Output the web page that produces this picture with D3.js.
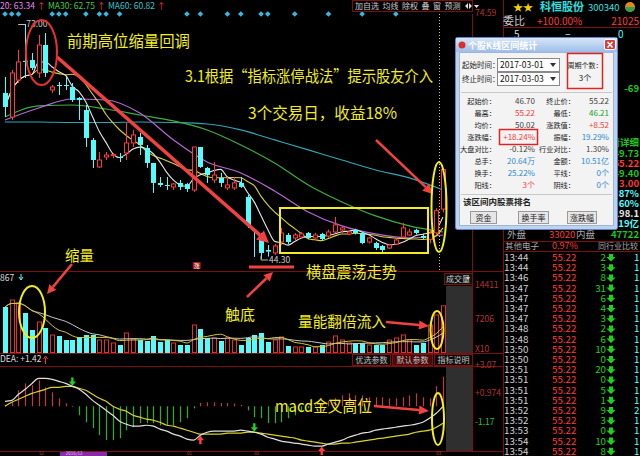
<!DOCTYPE html>
<html><head><meta charset="utf-8">
<script src="https://cdn.jsdelivr.net/npm/d3@7"></script>
<style>
html,body{margin:0;padding:0;background:#000;overflow:hidden}
svg{display:block}
text{font-family:"Noto Sans CJK SC","Noto Sans",sans-serif}
</style></head><body>
<svg id="c" width="640" height="456"></svg>
<script>
// ---------------- DATA ----------------
// daily candles [open, high, low, close]
const ohlc = [
[64.58,66.53,61.64,62.87],[61.64,67.38,61.28,67.02],[66.16,69.83,65.80,68.36],[68.50,73.00,66.41,68.36],
[68.60,69.46,67.38,67.63],[67.02,71.66,66.41,70.44],[70.44,71.90,66.53,67.02],[64.94,65.55,64.58,65.31],
[65.55,65.92,64.33,65.43],[65.55,66.53,64.94,65.43],[65.31,65.80,63.48,63.72],[63.96,64.09,61.28,63.72],
[62.50,63.11,57.98,59.08],[58.84,59.08,55.42,56.39],[55.54,57.37,55.42,56.39],[56.76,57.37,56.39,57.00],
[56.95,57.25,56.60,57.05],[56.76,57.25,56.15,56.64],[57.25,60.91,56.39,58.47],[58.47,60.06,57.98,59.45],
[59.20,59.69,57.00,58.23],[57.86,58.23,55.42,56.03],[56.03,56.03,52.37,53.59],[53.59,54.32,53.10,53.34],
[53.34,54.32,52.73,53.22],[53.10,53.59,52.73,53.46],[53.59,53.95,52.73,53.10],[53.46,53.59,52.49,52.85],
[52.73,57.98,52.49,57.98],[57.98,57.98,55.42,55.54],[55.42,55.54,53.59,54.56],[53.95,56.15,53.59,54.56],
[54.20,54.81,53.10,53.59],[52.98,54.32,52.73,53.34],[52.98,54.32,52.73,53.59],[53.59,54.32,52.98,53.10],
[51.88,52.12,48.09,48.46],[47.85,48.09,44.55,47.75],[47.23,47.48,44.30,45.04],[45.40,46.01,44.60,45.20],
[45.04,46.13,44.79,45.89],[46.38,48.09,46.01,47.48],[47.23,47.48,46.13,46.38],[46.87,47.48,46.62,47.23],
[46.99,47.60,46.80,47.36],[47.48,47.60,46.70,46.87],[46.87,47.50,46.60,47.23],[47.36,47.50,46.50,46.74],
[47.11,47.90,46.90,47.60],[47.60,49.44,47.48,48.46],[47.85,48.30,47.50,48.09],[47.36,47.85,47.20,47.60],
[47.85,48.00,47.30,47.48],[47.48,47.60,46.10,46.25],[46.38,47.00,46.20,46.87],[46.25,46.40,45.40,45.64],
[45.89,46.00,44.90,45.40],[45.64,46.10,45.50,46.01],[46.13,46.80,46.00,46.62],[46.99,48.70,46.87,48.09],
[47.23,48.00,47.10,47.60],[47.85,48.00,47.30,47.48],[47.11,47.40,46.74,46.87],[46.70,47.90,46.21,47.45],
[47.50,50.50,47.20,50.20],[50.40,55.22,50.00,55.22]];
// volume (x10 hands)
const volume = [9752,11236,10600,8480,4876,6572,5300,3816,3604,2756,2756,3392,3816,3816,2756,2756,2120,1696,
4240,2968,2756,2544,3604,2332,2756,2120,1696,1696,5936,5088,3180,3180,2544,3180,2756,1696,3180,3816,4240,2332,
2756,3392,1484,1272,1272,1272,1272,1696,2332,3604,2756,2120,2120,2120,1696,1696,1696,2756,3180,3816,2756,1696,
2120,5936,8056,10000];
// long moving averages read every 5th candle
const maSampleStep = 5;
const ma20 = [61.28,62.74,63.84,63.72,62.13,58.84,56.15,54.81,52.61,50.05,48.34,47.36,46.87,47.23];
const ma30 = [61.64,62.99,63.11,62.62,61.89,61.16,60.06,58.23,56.03,53.34,51.27,49.56,48.34,47.60];
const ma60 = [61.03,61.03,60.97,60.97,61.03,60.97,60.79,60.06,58.84,57.62,56.39,55.17,54.20,52.73];
// MACD
const dif = [0.37,0.44,0.89,1.26,1.70,2.07,2.07,2.00,1.85,1.70,1.48,1.26,0.89,0.44,0.07,-0.30,-0.67,-1.11,-1.33,-1.48,
-1.48,-1.41,-1.48,-1.70,-1.85,-2.07,-2.22,-2.44,-2.52,-2.15,-1.93,-1.85,-1.85,-1.85,-1.85,-1.78,-1.85,-1.93,-2.07,-2.30,
-2.44,-2.59,-2.67,-2.74,-2.81,-2.89,-2.96,-2.96,-2.81,-2.67,-2.52,-2.30,-2.15,-2.00,-1.93,-1.78,-1.70,-1.63,-1.56,-1.48,
-1.41,-1.33,-1.19,-0.89,-0.52,0.00];
const dea = [0.00,0.30,0.52,0.74,0.96,1.11,1.26,1.41,1.41,1.48,1.48,1.33,1.19,0.89,0.59,0.37,0.00,-0.22,-0.37,-0.67,
-0.81,-0.96,-1.04,-1.19,-1.41,-1.48,-1.63,-1.78,-1.93,-2.07,-2.07,-2.07,-2.07,-2.00,-2.00,-2.00,-1.93,-1.93,-2.00,-2.07,
-2.15,-2.22,-2.30,-2.37,-2.52,-2.59,-2.67,-2.74,-2.81,-2.81,-2.74,-2.74,-2.67,-2.59,-2.52,-2.44,-2.37,-2.30,-2.22,-2.15,
-2.07,-1.93,-1.85,-1.78,-1.56,-1.26];
const macdHist = [0.10,0.30,1.19,1.70,1.56,1.93,1.41,1.04,0.59,0.22,-0.05,-0.67,-1.19,-1.63,-2.15,-2.52,-2.52,-2.37,-1.78,-1.56,
-1.26,-1.26,-1.26,-1.41,-1.41,-1.41,-1.19,-0.89,-0.15,0.25,0.30,0.30,0.25,0.25,0.20,0.10,-0.30,-0.81,-0.89,-1.26,
-1.26,-1.19,-0.89,-0.67,-0.44,-0.15,0.10,0.20,0.40,0.60,0.81,0.96,0.81,0.81,0.67,0.67,0.67,0.59,0.59,0.67,
0.81,0.96,0.67,0.59,1.50,2.20];
const deathCross = [10, 37];
const goldenCross = [29, 47];
const infoMarks = [0,1,2,7,8,9,12,14,15,17,27,29,33,35,38,39,43,48,53,58];
const lowMarkIdx = 38, highMarkIdx = 3, limitUpIdx = 28;
const dateLabels = [["12",5],["2016/12",9],["01",27],["02",37],["03",64]];
// tick labels
const priceTicks = [74.59];
const volTicks = [14411, 7206];
const macdTicks = [3.07, 0.974, -1.17];
const maLegend = [["20: 63.34","#e58ae5"],["MA30: 62.75","#46c846"],["MA60: 60.82","#3cc0c8"]];
const toolbar = ["加自选","均线","除权","叠","窗","预测"];
const notes = ["前期高位缩量回调","3.1根据“指标涨停战法”提示股友介入","3个交易日，收益18%","横盘震荡走势","缩量","触底","量能翻倍流入","macd金叉高位"];
// dialog
const dlgTitle = "个股K线区间统计";
const dlgDates = [["起始时间：","2017-03-01"],["终止时间：","2017-03-03"]];
const dlgPeriods = ["周期个数：","3个"];
const statRows = [
 ["起始价：","46.70","终止价：","55.22"],["最高：","55.22","最低：","46.21"],
 ["均价：","50.02","涨跌值：","+8.52"],["涨跌幅：","+18.24%","振幅：","19.29%"],
 ["大盘对比：","-0.12%","行业对比：","1.30%"],["总手：","20.64万","金额：","10.51亿"],
 ["换手：","25.22%","平线：","0个"],["阳线：","3个","阴线：","0个"]];
const rankTitle = "该区间内股票排名";
const rankButtons = ["资金","换手率","涨跌幅"];
// quote panel
const stockName = "科恒股份", stockCode = "300340";
const sideVals = ["-69","看详细","49.73","55.22","49.40","3.00","3.87%","1.60%","198.1","2.19亿","47722"];
const tickTimes = ["13:44","13:44","13:46","13:47","13:47","13:47","13:47","13:48","13:48","13:50","13:50","13:51","13:51","13:51","13:51","13:52","13:52","13:53","13:54","13:54"];
const tickPrice = "55.22";
const tickVols = [2,3,8,31,6,4,3,2,6,10,0,20,0,5,1,9,3,0,10,8];
const tickCounts = [1,1,1,1,1,1,1,1,1,1,1,1,1,1,1,2,1,1,1,1];

// ---------------- DRAW ----------------
const svg = d3.select("#c");
const RED = "#ff3a3a", CYAN = "#54fcfc", DRED = "#7d0f0f", YEL = "#f2ee1a";
svg.append("rect").attr("width",640).attr("height",456).attr("fill","#000");
const defs = svg.append("defs");
defs.append("clipPath").attr("id","cm").append("rect").attr("x",0).attr("y",12).attr("width",447).attr("height",259);
const tg = defs.append("linearGradient").attr("id","tb").attr("x1",0).attr("y1",0).attr("x2",0).attr("y2",1);
tg.append("stop").attr("offset","0").attr("stop-color","#d7e6fa");
tg.append("stop").attr("offset","1").attr("stop-color","#9dbde9");

const x = d3.scaleLinear().domain([0, ohlc.length-1]).range([5, 443]);
const yP = d3.scaleLinear().domain([44.30, 73.00]).range([259, 24]);
const yV = d3.scaleLinear().domain([0, 14411]).range([353, 285]);
const yM = d3.scaleLinear().domain([-1.17, 3.07]).range([422, 365]);

// gray highlight column in lower panels
svg.append("rect").attr("x",446).attr("y",286).attr("width",26).attr("height",166).attr("fill","#2f2f2f");

// frame lines
const frame = svg.append("g").attr("stroke",DRED).attr("stroke-width",1);
[[0,271.5,503,271.5],[0,353.5,503,353.5],[0,366.5,503,366.5],[0,451.5,503,451.5],
 [472.5,14,472.5,452],[503.5,0,503.5,456],[503,27.5,640,27.5],[503,241.5,640,241.5],[503,251.5,640,251.5]]
 .forEach(l=>frame.append("line").attr("x1",l[0]).attr("y1",l[1]).attr("x2",l[2]).attr("y2",l[3]));
// cursor dotted line
svg.append("line").attr("x1",439.5).attr("x2",439.5).attr("y1",14).attr("y2",271)
  .attr("stroke","#c8c890").attr("stroke-dasharray","1,2");

// --- main price chart
const main = svg.append("g").attr("clip-path","url(#cm)");
const closes = ohlc.map(d=>d[3]);
const sma = (arr,n)=>arr.map((_,i)=>d3.mean(arr.slice(Math.max(0,i-n+1),i+1)));
const sampleLine = d3.line().x((d,i)=>x(i*maSampleStep)).y(d=>yP(d)).curve(d3.curveMonotoneX);
const dayLine = d3.line().x((d,i)=>x(i)).y(d=>yP(d)).curve(d3.curveMonotoneX);
[[ma60,"#2fa6b4"],[ma30,"#3fae3f"],[ma20,"#b867d6"]].forEach(([a,c])=>
  main.append("path").attr("d",sampleLine(a)).attr("fill","none").attr("stroke",c).attr("stroke-width",1.2));
main.append("path").attr("d",dayLine(sma(closes,10))).attr("fill","none").attr("stroke","#d6cf3a").attr("stroke-width",1.1);
main.append("path").attr("d",dayLine(sma(closes,5))).attr("fill","none").attr("stroke","#e6e6e6").attr("stroke-width",1.1);

ohlc.forEach((d,i)=>{
  const [o,h,l,c]=d, up=c>o, col=up?RED:CYAN, cx=Math.round(x(i))+0.5;
  main.append("line").attr("x1",cx).attr("x2",cx).attr("y1",yP(h)).attr("y2",yP(l)).attr("stroke",col);
  const top=yP(Math.max(o,c)), ht=Math.max(1,Math.abs(yP(o)-yP(c)));
  if(up) main.append("rect").attr("x",cx-2).attr("y",top).attr("width",4).attr("height",ht).attr("fill","#000").attr("stroke",col);
  else main.append("rect").attr("x",cx-2.5).attr("y",top).attr("width",5).attr("height",ht).attr("fill",col);
});
// info diamonds
infoMarks.forEach(i=>svg.append("rect").attr("x",x(i)-2).attr("y",12).attr("width",4).attr("height",4)
  .attr("transform",`rotate(45 ${x(i)} 14)`).attr("fill","#36b8e0"));
// high / low labels
const hx=x(highMarkIdx), hy=yP(ohlc[highMarkIdx][1]);
svg.append("line").attr("x1",hx-7).attr("x2",hx).attr("y1",hy+0.5).attr("y2",hy+0.5).attr("stroke","#bbb");
svg.append("text").attr("x",hx+1).attr("y",hy+3).attr("font-size",8.5).attr("fill","#ccc").attr("font-family","DejaVu Sans").text(ohlc[highMarkIdx][1].toFixed(2));
const lx=x(lowMarkIdx), ly=yP(ohlc[lowMarkIdx][2]);
svg.append("path").attr("d",`M${lx},${ly-3}V${ly+1}H${lx+7}`).attr("fill","none").attr("stroke","#bbb");
svg.append("text").attr("x",lx+8).attr("y",ly+4).attr("font-size",8.5).attr("fill","#ccc").attr("font-family","DejaVu Sans").text(ohlc[lowMarkIdx][2].toFixed(2));
// limit-up marker
svg.append("rect").attr("x",x(limitUpIdx)-1).attr("y",262).attr("width",8).attr("height",7).attr("fill","#a01818");
svg.append("text").attr("x",x(limitUpIdx)+3).attr("y",268).attr("font-size",6).attr("text-anchor","middle").attr("fill","#fff").text("涨");

// MA legend
let lxp=0;
maLegend.forEach(([t,c])=>{
  const tx=svg.append("text").attr("x",lxp).attr("y",9).attr("font-size",8.5).attr("fill",c).attr("font-family","DejaVu Sans").text(t);
  const w=tx.node().getComputedTextLength();
  svg.append("text").attr("x",lxp+w+2).attr("y",9).attr("font-size",8.5).attr("fill",RED).text("↑");
  lxp+=w+13;
});
// toolbar
svg.append("rect").attr("x",352.5).attr("y",0.5).attr("width",120).attr("height",11).attr("fill","none").attr("stroke",DRED);
let tbx=355;
toolbar.forEach(t=>{
  const tx=svg.append("text").attr("x",tbx).attr("y",9).attr("font-size",8).attr("fill","#c8c8c8").text(t);
  tbx+=tx.node().getComputedTextLength()+3.5;
});
svg.append("path").attr("d",`M${tbx+1},6l3,-3v6z M${tbx+5},3l3,3l-3,3z M${tbx+10},5h5l-2.5,3z`).attr("fill","#ddd");

// right axes
const axPrice = svg.append("g").attr("transform","translate(472,2)").call(d3.axisRight(yP).tickValues(priceTicks).tickSize(0).tickPadding(3).tickFormat(d3.format(".2f")));
const axVol = svg.append("g").attr("transform","translate(472,0)").call(d3.axisRight(yV).tickValues(volTicks).tickSize(0).tickPadding(3).tickFormat(d=>d));
const axM = svg.append("g").attr("transform","translate(472,0)").call(d3.axisRight(yM).tickValues(macdTicks).tickSize(0).tickPadding(3).tickFormat(d=>(d>0?"+":"")+d));
[axPrice,axVol,axM].forEach(a=>{a.select(".domain").remove();a.selectAll("text").attr("fill","#b83232").attr("font-size",8.5).attr("font-family","DejaVu Sans");});
axM.selectAll("text").filter(d=>d<0).attr("fill","#2cc02c");
svg.append("text").attr("x",475).attr("y",352).attr("font-size",8.5).attr("fill","#b83232").attr("font-family","DejaVu Sans").text("X10");
// volume label box
svg.append("rect").attr("x",444.5).attr("y",273.5).attr("width",28).attr("height",11).attr("fill","#111").attr("stroke",DRED);
svg.append("text").attr("x",446).attr("y",282).attr("font-size",8).attr("fill","#ccc").text("成交量");
svg.append("path").attr("d","M466,277h4l-2,3z").attr("fill","#ccc");

// --- volume panel
volume.forEach((v,i)=>{
  const up=ohlc[i][3]>ohlc[i][0], cx=Math.round(x(i))+0.5;
  if(up) svg.append("rect").attr("x",cx-2).attr("y",yV(v)).attr("width",4).attr("height",yV(0)-yV(v)-0.5).attr("fill","none").attr("stroke","#e03030");
  else svg.append("rect").attr("x",cx-2.5).attr("y",yV(v)).attr("width",5).attr("height",yV(0)-yV(v)).attr("fill",CYAN);
});
const vLine = d3.line().x((d,i)=>x(i)).y(d=>yV(d)).curve(d3.curveMonotoneX);
svg.append("path").attr("d",vLine(sma(volume,10))).attr("fill","none").attr("stroke","#c8c8c8").attr("stroke-width",1);
svg.append("path").attr("d",vLine(sma(volume,5))).attr("fill","none").attr("stroke","#d4c830").attr("stroke-width",1);
svg.append("text").attr("x",0).attr("y",281).attr("font-size",8.5).attr("fill","#ddd").attr("font-family","DejaVu Sans").text("867");
svg.append("path").attr("d","M21,274v5M19,277l2,3l2,-3").attr("stroke",CYAN).attr("fill","none");

// --- MACD panel
macdHist.forEach((h,i)=>{
  const cx=Math.round(x(i))+0.5;
  svg.append("line").attr("x1",cx).attr("x2",cx).attr("y1",yM(0)).attr("y2",yM(h))
    .attr("stroke",h>=0?"#c83838":"#22b422").attr("stroke-width",1.2);
});
const mLine = d3.line().x((d,i)=>x(i)).y(d=>yM(d)).curve(d3.curveMonotoneX);
svg.append("path").attr("d",mLine(dea)).attr("fill","none").attr("stroke","#d8d22a").attr("stroke-width",1.2);
svg.append("path").attr("d",mLine(dif)).attr("fill","none").attr("stroke","#e0e0e0").attr("stroke-width",1.2);
deathCross.forEach(i=>{const cx=x(i),cy=yM(dif[i]);
  svg.append("path").attr("d",`M${cx-1.2},${cy-9}h2.4v4h2.3l-3.5,4.5l-3.5,-4.5h2.3z`).attr("fill","#20d020");});
goldenCross.forEach(i=>{const cx=x(i),cy=yM(dif[i]);
  svg.append("path").attr("d",`M${cx-1.2},${cy+9}h2.4v-4h2.3l-3.5,-4.5l-3.5,4.5h2.3z`).attr("fill","#ff4040");});
const deaT = svg.append("text").attr("x",0).attr("y",362).attr("font-size",8.5).attr("fill","#ddd").attr("font-family","DejaVu Sans").text("DEA: +1.42");
const dw = deaT.node().getComputedTextLength();
svg.append("path").attr("d",`M${dw+4},364v-6M${dw+2},359l2,-3l2,3`).attr("stroke",RED).attr("fill","none");
[["优选参数",352,38,"#0a0a0a"],["默认参数",392,40,"#4a0808"],["指标说明",434,38,"#0a0a0a"]].forEach(([t,bx,bwid,f])=>{
  svg.append("rect").attr("x",bx+0.5).attr("y",354.5).attr("width",bwid).attr("height",11).attr("fill",f).attr("stroke",DRED);
  svg.append("text").attr("x",bx+bwid/2+0.5).attr("y",363).attr("text-anchor","middle").attr("font-size",8).attr("fill","#c0c0c0").text(t);
});
// date strip (at bottom edge)
svg.append("rect").attr("x",60).attr("y",452).attr("width",47).attr("height",4).attr("fill","#8a2aa8");
dateLabels.forEach(([t,i])=>svg.append("text").attr("x",x(i)).attr("y",454.5).attr("font-size",4.5)
  .attr("fill",t.length>2?"#e6c0ff":"#c04040").attr("font-family","DejaVu Sans").text(t));

// --- annotations
const ann = svg.append("g");
function note(i,tx,ty,w,fs){ann.append("text").attr("x",tx).attr("y",ty).attr("font-size",fs).attr("fill",YEL)
  .attr("textLength",w).attr("lengthAdjust","spacingAndGlyphs").text(notes[i]);}
note(0,67,47,123,16); note(1,185,82,248,15.5); note(2,248,119,149,16); note(3,306,278,91,15.5);
note(4,65,261,29,15); note(5,225,320,30,15); note(6,298,327,88,15); note(7,275,412,97,16);
function arrow(x1,y1,x2,y2,w,hl,hw,col){
  const a=Math.atan2(y2-y1,x2-x1), bx=x2-hl*Math.cos(a), by=y2-hl*Math.sin(a), px=-Math.sin(a)*hw, py=Math.cos(a)*hw;
  ann.append("line").attr("x1",x1).attr("y1",y1).attr("x2",bx).attr("y2",by).attr("stroke",col).attr("stroke-width",w);
  ann.append("path").attr("d",`M${x2},${y2}L${bx+px},${by+py}L${bx-px},${by-py}Z`).attr("fill",col);
}
const AR="#f04242";
arrow(57,57,269,243,3.5,12,6,AR);
arrow(376,140,433,194,2.5,10,5,AR);
arrow(72,264,47,294,2.5,9,4.5,AR);
arrow(247,297,273,272,2.5,9,4.5,AR);
arrow(386,322,429,326,2.5,10,4.5,AR);
arrow(374,406,429,411,2.5,10,4.5,AR);
ann.append("line").attr("x1",249).attr("x2",294).attr("y1",267).attr("y2",267).attr("stroke",AR).attr("stroke-width",3);
ann.append("ellipse").attr("cx",41.5).attr("cy",52.5).attr("rx",15.5).attr("ry",32.5).attr("fill","none").attr("stroke","#e83030").attr("stroke-width",2);
ann.append("rect").attr("x",280).attr("y",208).attr("width",148).attr("height",45).attr("fill","none").attr("stroke",YEL).attr("stroke-width",2);
[[439,207,7.5,45],[32,312,13,26],[437,330,6.5,19],[438,419,6,26]].forEach(e=>
  ann.append("ellipse").attr("cx",e[0]).attr("cy",e[1]).attr("rx",e[2]).attr("ry",e[3]).attr("fill","none").attr("stroke",YEL).attr("stroke-width",2));

// --- right quote panel
const rp = svg.append("g").attr("font-family","Liberation Sans, DejaVu Sans");
rp.append("text").attr("x",513).attr("y",11).attr("font-size",10).attr("fill","#f0d000").text("★★");
rp.append("text").attr("x",540).attr("y",11).attr("font-size",11).attr("font-weight","bold").attr("fill","#30e0e0").attr("font-family","Noto Sans CJK SC").text(stockName);
rp.append("text").attr("x",588).attr("y",11).attr("font-size",9.5).attr("fill","#30e0e0").text(stockCode);
rp.append("circle").attr("cx",630).attr("cy",7).attr("r",5).attr("fill","#e08a20");
rp.append("path").attr("d","M625,7a5,5 0 0,0 10,0z").attr("fill","#3aa04a");
rp.append("text").attr("x",503).attr("y",25).attr("font-size",11).attr("fill","#c8c8c8").attr("font-family","Noto Sans CJK SC").text("委比");
rp.append("text").attr("x",537).attr("y",25).attr("font-size",10).attr("fill",RED).text("+100.00%");
rp.append("text").attr("x",639).attr("y",25).attr("font-size",10).attr("fill",RED).attr("text-anchor","end").text("21025");
rp.append("text").attr("x",514).attr("y",38).attr("font-size",10).attr("fill","#ddd").text("5");
rp.append("text").attr("x",565).attr("y",38).attr("font-size",10).attr("fill","#ddd").text("−");
rp.append("text").attr("x",618).attr("y",38).attr("font-size",10).attr("fill",CYAN).text("0");
const sideY=[92,146,157,167,177,187,197,207,217,227,238];
const sideC=["#1ec81e","#1ec81e","#1ec81e",RED,"#1ec81e",RED,CYAN,CYAN,"#e6e6e6",CYAN,"#1ec81e"];
sideVals.forEach((t,i)=>rp.append("text").attr("x",639).attr("y",sideY[i]).attr("text-anchor","end").attr("font-size",9.5)
  .attr("font-weight","bold").attr("fill",sideC[i]).attr("font-family","Noto Sans CJK SC, Liberation Sans").text(t));
rp.append("text").attr("x",507).attr("y",238).attr("font-size",9.5).attr("fill","#aaa").attr("font-family","Noto Sans CJK SC").text("外盘");
rp.append("text").attr("x",549).attr("y",238).attr("font-size",9.5).attr("fill",RED).text("33020");
rp.append("text").attr("x",576).attr("y",238).attr("font-size",9.5).attr("fill","#aaa").attr("font-family","Noto Sans CJK SC").text("内盘");
rp.append("text").attr("x",505).attr("y",249).attr("font-size",8.5).attr("fill","#aaa").attr("font-family","Noto Sans CJK SC").text("其他电子");
rp.append("text").attr("x",552).attr("y",249).attr("font-size",9).attr("fill",RED).text("0.97%");
rp.append("text").attr("x",598).attr("y",249).attr("font-size",8).attr("fill","#aaa").attr("font-family","Noto Sans CJK SC").text("同行业比较");
tickTimes.forEach((t,k)=>{
  const ty=261+k*10.2;
  rp.append("text").attr("x",504).attr("y",ty).attr("font-size",9.8).attr("fill","#d0d0d0").text(t);
  rp.append("text").attr("x",552).attr("y",ty).attr("font-size",9.8).attr("fill",RED).text(tickPrice);
  rp.append("text").attr("x",606).attr("y",ty).attr("text-anchor","end").attr("font-size",9.8).attr("fill","#1ed01e").text(tickVols[k]);
  rp.append("path").attr("d",`M609,${ty-7}h4v3h2.5l-4.5,4.5l-4.5,-4.5h2.5z`).attr("fill","#1ed01e");
  rp.append("text").attr("x",634).attr("y",ty).attr("font-size",9.8).attr("fill",CYAN).text(tickCounts[k]);
});

// --- dialog window
const dg = svg.append("g").attr("font-size",8);
dg.append("rect").attr("x",455.5).attr("y",37.5).attr("width",162).attr("height",192).attr("rx",2).attr("fill","#bcd2ee").attr("stroke","#5f86c4");
dg.append("rect").attr("x",456).attr("y",38).attr("width",161).attr("height",14).attr("fill","url(#tb)");
dg.append("rect").attr("x",459.5).attr("y",52.5).attr("width",154).attr("height",173).attr("fill","#f3f3f3").attr("stroke","#9fb6d8");
dg.append("circle").attr("cx",462).attr("cy",45).attr("r",3.5).attr("fill","#d83030");
dg.append("text").attr("x",468).attr("y",48.5).attr("font-size",9).attr("font-weight","bold").attr("fill","#fff").text(dlgTitle);
dg.append("rect").attr("x",604.5).attr("y",39.5).attr("width",11).attr("height",10).attr("rx",1.5).attr("fill","#d84040").attr("stroke","#fff");
dg.append("path").attr("d","M607.5,42L612.5,47.5M612.5,42L607.5,47.5").attr("stroke","#fff").attr("stroke-width",1.5);
dlgDates.forEach(([lab,val],k)=>{
  const y0=58+k*14;
  dg.append("text").attr("x",462).attr("y",y0+10).attr("font-size",7.5).attr("fill","#222").text(lab);
  dg.append("rect").attr("x",497.5).attr("y",y0+0.5).attr("width",62).attr("height",13).attr("fill","#fff").attr("stroke","#8a8a8a");
  dg.append("text").attr("x",500).attr("y",y0+10).attr("font-family","Liberation Sans").attr("font-size",8.5).attr("fill","#111").text(val);
  dg.append("path").attr("d",`M550,${y0+5}h6l-3,4z`).attr("fill","#333");
});
dg.append("rect").attr("x",567.5).attr("y",53.5).attr("width",35).attr("height",35).attr("fill","none").attr("stroke","#e02424").attr("stroke-width",1.5);
dg.append("text").attr("x",585).attr("y",68).attr("text-anchor","middle").attr("font-size",7).attr("fill","#222").text(dlgPeriods[0]);
dg.append("text").attr("x",585).attr("y",81).attr("text-anchor","middle").attr("font-size",8).attr("fill","#222").text(dlgPeriods[1]);
dg.append("line").attr("x1",461).attr("x2",612).attr("y1",92.5).attr("y2",92.5).attr("stroke","#c8c8c8");
const c1=["#444",RED,"#444",RED,"#444","#2f8ad0","#2f8ad0",RED];
const c2=["#444","#18a018",RED,"#2f8ad0","#444","#2f8ad0","#2f8ad0","#2f8ad0"];
statRows.forEach((r,k)=>{
  const ty=104+k*12;
  dg.append("text").attr("x",496).attr("y",ty).attr("text-anchor","end").attr("font-size",7.2).attr("fill","#222").text(r[0]);
  dg.append("text").attr("x",535).attr("y",ty).attr("text-anchor","end").attr("font-size",8).attr("fill",c1[k]).attr("font-family","Liberation Sans, Noto Sans CJK SC").text(r[1]);
  dg.append("text").attr("x",575).attr("y",ty).attr("text-anchor","end").attr("font-size",7.2).attr("fill","#222").text(r[2]);
  dg.append("text").attr("x",609).attr("y",ty).attr("text-anchor","end").attr("font-size",8).attr("fill",c2[k]).attr("font-family","Liberation Sans, Noto Sans CJK SC").text(r[3]);
});
dg.append("rect").attr("x",499.5).attr("y",129.5).attr("width",38).attr("height",15).attr("fill","none").attr("stroke","#e02424").attr("stroke-width",1.5);
dg.append("line").attr("x1",461).attr("x2",612).attr("y1",194.5).attr("y2",194.5).attr("stroke","#c8c8c8");
dg.append("text").attr("x",463).attr("y",205).attr("font-size",8.5).attr("font-weight","bold").attr("fill","#222").text(rankTitle);
[[470,26],[518,30],[567,29]].forEach(([bx,bwid],k)=>{
  dg.append("rect").attr("x",bx+0.5).attr("y",211.5).attr("width",bwid).attr("height",12).attr("fill","#e6e6e6").attr("stroke","#9a9a9a");
  dg.append("text").attr("x",bx+bwid/2+0.5).attr("y",220.5).attr("text-anchor","middle").attr("font-size",8).attr("fill","#222").text(rankButtons[k]);
});
</script>
</body></html>
